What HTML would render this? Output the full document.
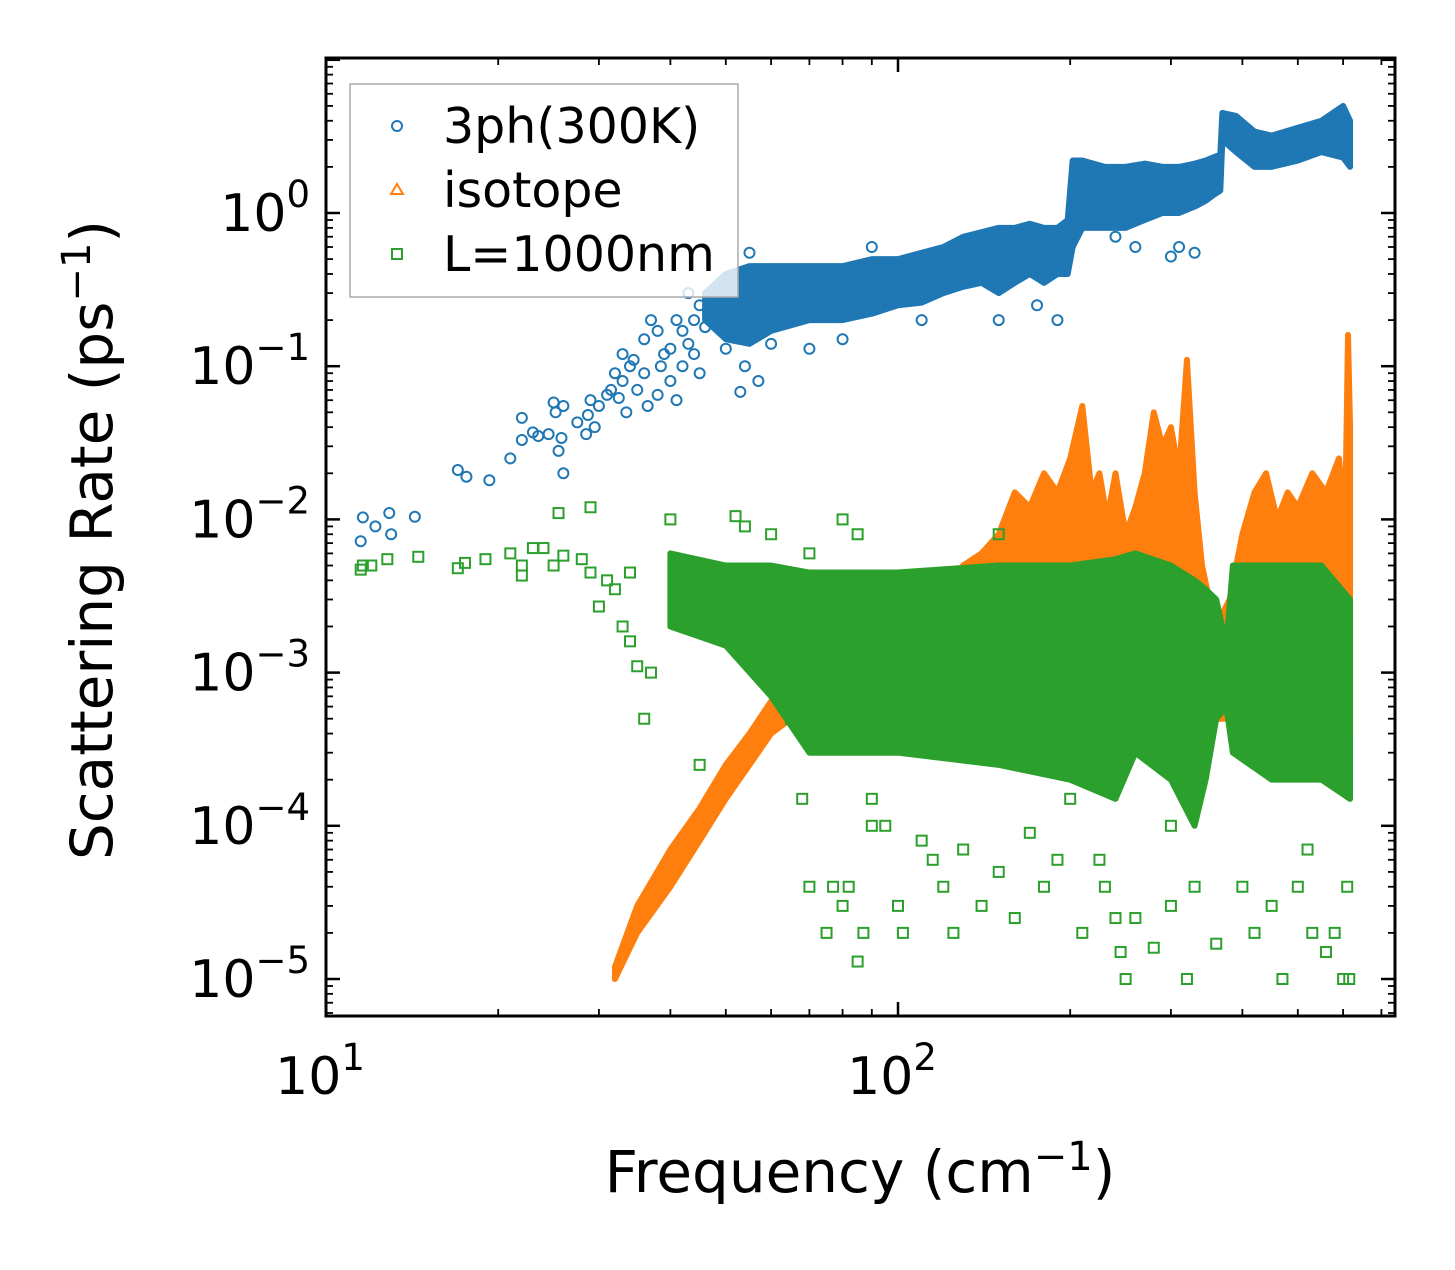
<!DOCTYPE html>
<html><head><meta charset="utf-8"><style>
html,body{margin:0;padding:0;background:#fff;}
svg text{font-family:"DejaVu Sans","Liberation Sans",sans-serif;fill:#000;}
</style></head><body>
<svg id="chart" width="1455" height="1265" viewBox="0 0 1455 1265" xmlns="http://www.w3.org/2000/svg">
<g id="marks"></g>
<g id="axes"></g>
<g id="legend">
  <rect x="350" y="84" width="388" height="213" fill="#fff" fill-opacity="0.8" stroke="#aaa" stroke-width="1.5"/>
  <g>
    <circle cx="397" cy="126" r="5" fill="none" stroke="#1f77b4" stroke-width="2"/>
    <text x="443" y="143" font-size="49">3ph(300K)</text>
  </g>
  <g>
    <polygon points="397,184 403,194 391,194" fill="none" stroke="#ff7f0e" stroke-width="2"/>
    <text x="443" y="207" font-size="49">isotope</text>
  </g>
  <g>
    <rect x="392" y="249" width="10" height="10" fill="none" stroke="#2ca02c" stroke-width="2"/>
    <text x="443" y="271" font-size="49">L=1000nm</text>
  </g>
</g>
<text x="860" y="1192" font-size="58" text-anchor="middle">Frequency (cm<tspan dy="-22" font-size="40">−1</tspan><tspan dy="22">)</tspan></text>
<text transform="translate(112,540) rotate(-90)" font-size="58" text-anchor="middle">Scattering Rate (ps<tspan dy="-22" font-size="40">−1</tspan><tspan dy="22">)</tspan></text>
</svg>
<script>
// ---- data ----
const blueFreq=[11.5,11.6,12.2,12.9,13,14.3,17,17.6,19.3,21,22,22,23,23.5,24.5,25,25.2,25.5,25.8,26,26,27.5,28.5,28.7,29,29.5,30,31,31.5,32,32.5,33,33,33.5,34,34.5,35,36,36,36.5,37,38,38,38.5,39,40,40,41,41,42,42,43,43,44,44,45,45,46,47,48,50,52,53,54,55,57,60,70,80,90,110,150,175,190,240,260,300,310,330];
const blueRate=[0.0072,0.0103,0.009,0.011,0.008,0.0104,0.021,0.019,0.018,0.025,0.033,0.046,0.037,0.035,0.036,0.058,0.05,0.028,0.034,0.02,0.055,0.043,0.036,0.048,0.06,0.04,0.055,0.065,0.07,0.09,0.062,0.12,0.08,0.05,0.1,0.11,0.07,0.15,0.09,0.055,0.2,0.17,0.065,0.1,0.12,0.08,0.13,0.06,0.2,0.17,0.1,0.14,0.3,0.2,0.12,0.25,0.09,0.18,0.22,0.3,0.13,0.4,0.068,0.1,0.55,0.08,0.14,0.13,0.15,0.6,0.2,0.2,0.25,0.2,0.7,0.6,0.52,0.6,0.55];
const blueBandFreq=[46,50,55,60,70,80,90,100,110,120,130,140,150,160,170,180,190,198,202,210,230,250,270,290,310,330,345,355,366,369,390,420,450,500,550,600,617];
const blueBandLo=[0.2,0.15,0.14,0.17,0.2,0.2,0.22,0.25,0.26,0.3,0.33,0.35,0.3,0.35,0.4,0.35,0.4,0.4,0.6,0.8,0.8,0.8,0.9,1.0,1.0,1.1,1.2,1.3,1.4,3.0,2.5,2.0,2.0,2.2,2.5,2.3,2.0];
const blueBandHi=[0.3,0.4,0.45,0.45,0.45,0.45,0.5,0.5,0.55,0.6,0.7,0.75,0.8,0.8,0.85,0.8,0.8,0.9,2.2,2.2,2.0,2.0,2.1,2.0,2.0,2.1,2.2,2.3,2.4,4.5,4.3,3.4,3.2,3.6,4.0,5.0,4.0];
const orangeBandFreq=[32,35,40,45,50,55,60,65,80,100,115,130,140,150,160,170,180,190,200,210,218,225,232,240,250,260,270,280,290,300,310,320,330,340,350,360,380,400,420,440,460,480,500,530,560,590,605,612,617];
const orangeBandLo=[1e-5,2e-5,4e-5,8e-5,1.5e-4,2.5e-4,4e-4,5e-4,4e-4,4e-4,4e-4,4e-4,4e-4,4e-4,4e-4,4e-4,4e-4,4e-4,4e-4,4e-4,4e-4,4e-4,4e-4,4e-4,4e-4,4e-4,4e-4,4e-4,4e-4,4e-4,4e-4,4e-4,4e-4,4e-4,4e-4,5e-4,5e-4,4e-4,4e-4,4e-4,4e-4,4e-4,4e-4,4e-4,4e-4,4e-4,4e-4,4e-4,4e-4];
const orangeBandHi=[1.2e-5,3e-5,7e-5,1.3e-4,2.5e-4,4e-4,6.5e-4,7e-4,1e-3,1.5e-3,3e-3,5e-3,6e-3,8e-3,1.5e-2,1.2e-2,2e-2,1.5e-2,2.5e-2,5.5e-2,1.5e-2,2e-2,1e-2,2e-2,8e-3,1.2e-2,2e-2,5e-2,3e-2,4e-2,2e-2,1.1e-1,1.5e-2,5e-3,3e-3,2e-3,3e-3,8e-3,1.5e-2,2e-2,1e-2,1.5e-2,1.2e-2,2e-2,1.5e-2,2.5e-2,1e-2,1.6e-1,4e-2];
const greenBandFreq=[40,50,60,70,100,150,200,240,260,300,330,345,360,375,385,450,550,617];
const greenBandLo=[2e-3,1.5e-3,7e-4,3e-4,3e-4,2.5e-4,2e-4,1.5e-4,3e-4,2e-4,1e-4,2e-4,5e-4,6e-4,3e-4,2e-4,2e-4,1.5e-4];
const greenBandHi=[6e-3,5e-3,5e-3,4.5e-3,4.5e-3,5e-3,5e-3,5.5e-3,6e-3,5e-3,4e-3,3.5e-3,3e-3,1.5e-3,5e-3,5e-3,5e-3,3e-3];
const greenFreq=[11.5,11.6,12,12.8,14.5,17,17.5,19,21,22,22,23,24,25,25.5,26,28,29,29,30,31,32,33,34,34,35,36,37,40,45,52,54,60,65,68,70,75,77,80,82,85,87,90,95,100,102,110,115,120,125,130,140,150,160,170,180,190,210,225,230,240,245,250,260,280,300,320,330,360,400,420,450,470,500,530,560,580,600,610,615,90,200,300,520,85,70,80,150];
const greenRate=[0.0047,0.005,0.005,0.0055,0.0057,0.0048,0.0052,0.0055,0.006,0.005,0.0043,0.0065,0.0065,0.005,0.011,0.0058,0.0055,0.012,0.0045,0.0027,0.004,0.0035,0.002,0.0045,0.0016,0.0011,0.0005,0.001,0.01,0.00025,0.0105,0.009,0.008,0.0005,0.00015,0.00004,0.00002,0.00004,0.00003,0.00004,0.000013,0.00002,0.00015,0.0001,0.00003,0.00002,0.00008,0.00006,0.00004,0.00002,0.00007,0.00003,0.00005,0.000025,0.00009,0.00004,0.00006,0.00002,0.00006,0.00004,0.000025,0.000015,0.00001,0.000025,0.000016,0.00003,0.00001,0.00004,0.000017,0.00004,0.00002,0.00003,0.00001,0.00004,0.00002,0.000015,0.00002,0.00001,0.00004,0.00001,0.0001,0.00015,0.0001,0.00007,0.008,0.006,0.01,0.008];
const xTickExp=[1,2];
const yTickExp=[0,-1,-2,-3,-4,-5];

// ---- axes ----
const L=326,R=1395,T=58,B=1016;
const xs=f=>L+572*(Math.log10(f)-1);
const ys=v=>213-153.2*Math.log10(v);
const NS="http://www.w3.org/2000/svg";
function mk(tag,attrs,parent){const e=document.createElementNS(NS,tag);for(const k in attrs)e.setAttribute(k,attrs[k]);parent.appendChild(e);return e;}
const marks=document.getElementById('marks');
function band(fr,lo,hi,color,name){
  let pts=fr.map((f,i)=>xs(f)+','+ys(hi[i]));
  for(let i=fr.length-1;i>=0;i--)pts.push(xs(fr[i])+','+ys(lo[i]));
  const p=mk('polygon',{points:pts.join(' '),fill:color,stroke:color,'stroke-width':6,'stroke-linejoin':'round'},marks);
  
  
}
band(blueBandFreq,blueBandLo,blueBandHi,'#1f77b4','blue-dense-band');
blueFreq.forEach((f,i)=>{
  const c=mk('circle',{cx:xs(f),cy:ys(blueRate[i]),r:5,fill:'none',stroke:'#1f77b4','stroke-width':2},marks);
  
  
});
band(orangeBandFreq,orangeBandLo,orangeBandHi,'#ff7f0e','orange-dense-band');
band(greenBandFreq,greenBandLo,greenBandHi,'#2ca02c','green-dense-band');
greenFreq.forEach((f,i)=>{
  const x=xs(f),y=ys(greenRate[i]);
  const s=mk('rect',{x:x-5,y:y-5,width:10,height:10,fill:'none',stroke:'#2ca02c','stroke-width':2},marks);
  
  
});
const axes=document.getElementById('axes');
const frame=mk('rect',{x:L,y:T,width:R-L,height:B-T,fill:'none',stroke:'#000','stroke-width':3},axes);


function tick(x1,y1,x2,y2,w){mk('line',{x1,y1,x2,y2,stroke:'#000','stroke-width':w},axes);}
for(let d=1;d<=2;d++)for(let m=1;m<=9;m++){
  const f=m*Math.pow(10,d); if(f>740)continue; const x=xs(f);
  const len=m==1?14:7,w=m==1?2.5:1.8;
  tick(x,B,x,B-len,w);tick(x,T,x,T+len,w);
}
for(let d=-6;d<=1;d++)for(let m=1;m<=9;m++){
  const v=m*Math.pow(10,d); const y=ys(v); if(y<T||y>B)continue;
  const len=m==1?14:7,w=m==1?2.5:1.8;
  tick(L,y,L+len,y,w);tick(R,y,R-len,y,w);
}
xTickExp.forEach(e=>{
  const t=mk('text',{x:xs(Math.pow(10,e))-6,y:1094,'font-size':52,'text-anchor':'middle'},axes);
  
  
  t.innerHTML='10<tspan dy="-24" font-size="37">'+e+'</tspan>';
});
yTickExp.forEach(e=>{
  const t=mk('text',{x:310,y:ys(Math.pow(10,e))+18,'font-size':52,'text-anchor':'end'},axes);
  
  
  t.innerHTML='10<tspan dy="-24" font-size="37">'+(e<0?'−'+(-e):e)+'</tspan>';
});
</script>
</body></html>
